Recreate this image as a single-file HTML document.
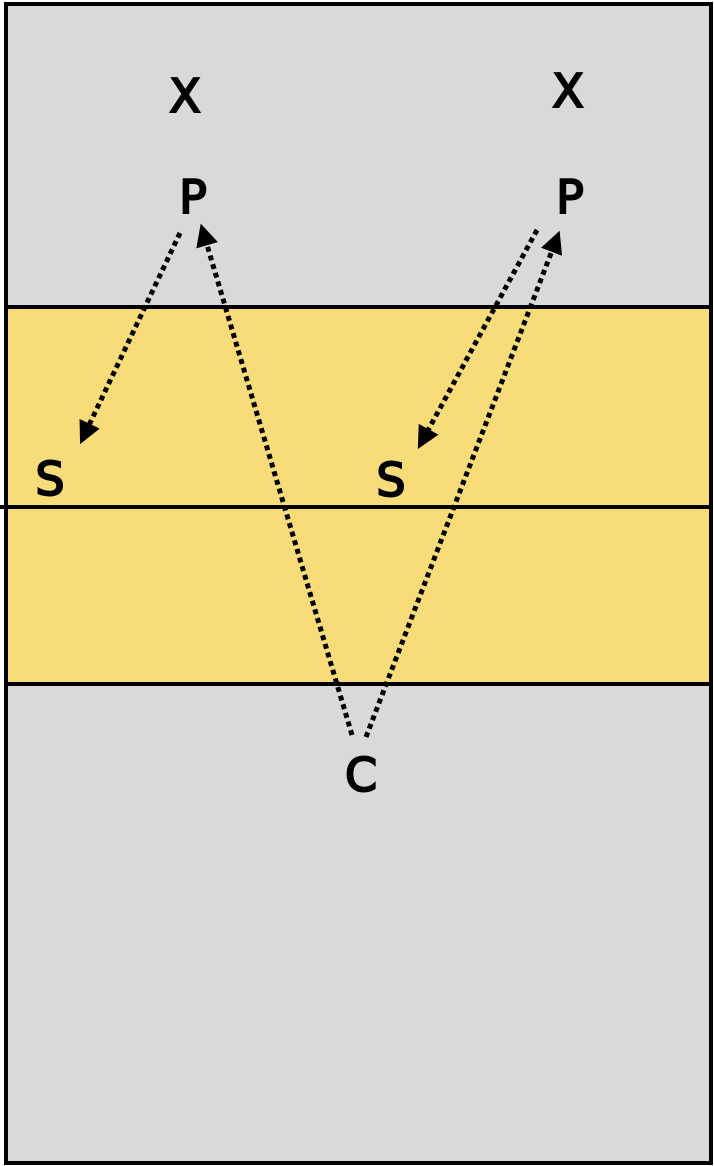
<!DOCTYPE html>
<html><head><meta charset="utf-8"><style>
html,body{margin:0;padding:0;background:#fff;}
svg{display:block;}
text{font-family:"DejaVu Sans","Liberation Sans",sans-serif;font-weight:normal;font-size:46px;fill:#000;stroke:#000;stroke-width:2;}
</style></head><body>
<svg width="714" height="1166" viewBox="0 0 714 1166">
<defs><marker id="ah" viewBox="0 0 10 10" refX="8" refY="5" markerWidth="4.5" markerHeight="4.5" orient="auto"><path d="M0,0 L10,5 L0,10 z" fill="#000"/></marker></defs>
<rect x="6" y="4" width="705" height="1159" fill="#d9d9d9"/>
<rect x="6" y="307" width="705" height="377" fill="#f9dc7a"/>
<line x1="6" y1="307" x2="711" y2="307" stroke="#000" stroke-width="4"/>
<line x1="0" y1="507" x2="711" y2="507" stroke="#000" stroke-width="4"/>
<line x1="6" y1="684" x2="711" y2="684" stroke="#000" stroke-width="4"/>
<rect x="6" y="4" width="705" height="1159" fill="none" stroke="#000" stroke-width="4"/>
<g stroke="#000" stroke-width="5" stroke-dasharray="5 4" fill="none">
<line x1="180" y1="233" x2="82" y2="440" marker-end="url(#ah)"/>
<line x1="352" y1="735" x2="202" y2="228" marker-end="url(#ah)"/>
<line x1="537" y1="230" x2="420" y2="445" marker-end="url(#ah)"/>
<line x1="366" y1="737" x2="558" y2="235" marker-end="url(#ah)"/>
</g>
<g text-anchor="middle">
<text x="185" y="112">X</text>
<text x="568" y="107">X</text>
<text x="193" y="213">P</text>
<text x="570" y="213">P</text>
<text x="50" y="495">S</text>
<text x="391" y="496">S</text>
<text x="361" y="791">C</text>
</g>
</svg>
</body></html>
